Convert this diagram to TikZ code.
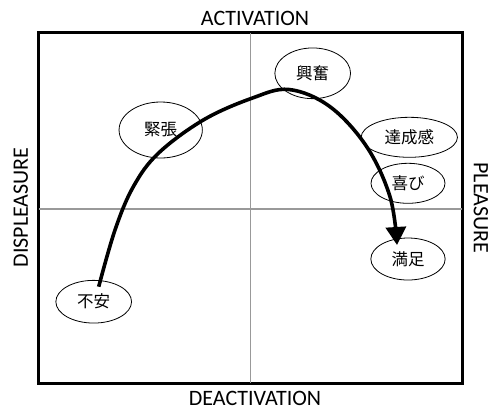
\documentclass[tikz,border=0pt]{standalone}
\usepackage{fontspec}
\setmainfont{Carlito}
\newfontfamily\jpfont{Noto Sans CJK JP}
\usepackage{tikz}
\usetikzlibrary{arrows.meta,positioning,shapes.geometric}
\tikzset{
  mood-frame/.style={draw=black, line width=2.2pt},
  mood-axis/.style={draw=black!40, line width=1.1pt},
  mood-label/.style={font=\fontsize{22}{24}\selectfont, inner sep=0pt},
  mood-bubble/.style={draw=black, ellipse, line width=0.8pt, inner sep=0pt,
    font=\jpfont\fontsize{16.5}{18}\selectfont},
  mood-path/.style={line width=3.6pt, -{Triangle[length=18pt,width=20pt]}}
}

\begin{document}
\begin{tikzpicture}[x=1pt, y=-1pt]
  \useasboundingbox (0,0) rectangle (489,405);

  % Frame and the two axes
  \node[mood-frame, minimum width=423pt, minimum height=349.4pt, inner sep=0pt] (frame) at (250.5,208) {};
  \draw[mood-axis] (250.7,0 |- frame.north) -- (250.7,0 |- frame.south);
  \draw[mood-axis] (frame.west |- 0,209) -- (frame.east |- 0,209);
  \draw[mood-frame] (frame.north west) rectangle (frame.south east);

  % Axis labels
  \node[mood-label] (act) at (255,18.3) {ACTIVATION};
  \node[mood-label] (deact) at (255,398.5) {DEACTIVATION};
  \node[mood-label, rotate=90] (displeasure) at (20.7,207.5) {DISPLEASURE};
  \node[mood-label, rotate=-90] (pleasure) at (481,208) {PLEASURE};

  % Emotions
  \node[mood-bubble, minimum width=75.7pt, minimum height=50.7pt] (kofun) at (312.7,73.3) {興奮};
  \node[mood-bubble, minimum width=83.3pt, minimum height=56pt] (kincho) at (160.7,130) {緊張};
  \node[mood-bubble, minimum width=96.3pt, minimum height=40pt] (tassei) at (409.3,137.3) {達成感};
  \node[mood-bubble, minimum width=74pt, minimum height=40pt] (yorokobi) at (408,183.3) {喜び};
  \node[mood-bubble, minimum width=74.3pt, minimum height=42pt] (manzoku) at (408,259) {満足};
  \node[mood-bubble, minimum width=75.7pt, minimum height=42.7pt] (fuan) at (93.7,301.7) {不安};

  % Path from anxiety to satisfaction
  \coordinate (peak) at (289,89.5);
  \draw[mood-path] plot[smooth, tension=0.6] coordinates {
    ([shift={(5,-15)}]fuan.center) (115,230) (133.3,186.7) (158.3,153.3)
    (203.3,120) (251.7,98.3) (peak) (330,106.7) (366.7,146.7) (390,196.7)
    ([shift={(-11,-14)}]manzoku.center)};
\end{tikzpicture}
\end{document}
